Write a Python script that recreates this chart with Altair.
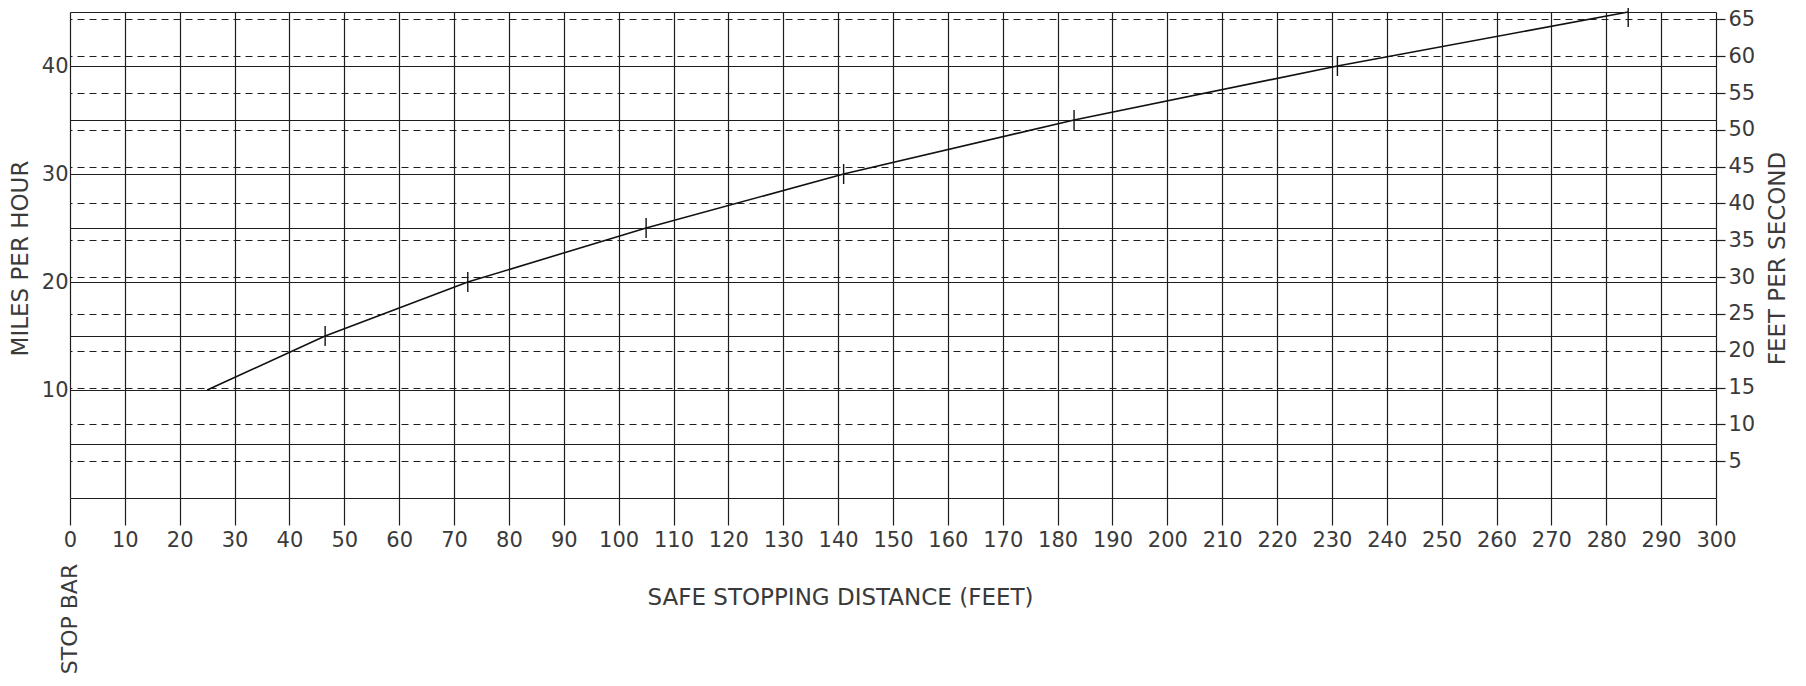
import altair as alt
import pandas as pd

# ---- data ----
speed_mph = [10, 15, 20, 25, 30, 35, 40, 45]
stop_dist_ft = [25, 46.5, 72.5, 105, 141, 183, 231, 284]

x_ticks = list(range(0, 301, 10))
mph_grid = list(range(0, 46, 5))
fps_ticks = list(range(5, 66, 5))
stop_bar_label = ["STOP BAR"]

df = pd.DataFrame({"dist": stop_dist_ft, "mph": speed_mph})

FONT = "DejaVu Sans"
TXT = "#3a3a3a"
LINE = "#1e1e1e"

x_enc = alt.X(
    "dist:Q",
    scale=alt.Scale(domain=[0, 300], nice=False, zero=True),
    axis=alt.Axis(
        values=x_ticks, grid=True, gridColor=LINE, gridWidth=1.2, gridOpacity=1,
        domain=False, tickSize=27, tickColor=LINE, tickWidth=1.2,
        labelFontSize=21, labelPadding=4, labelFlush=False, labelOverlap=False,
        title="SAFE STOPPING DISTANCE (FEET)", titleFontSize=23,
        titleX=770, titleY=99, titleAlign="center", titleBaseline="middle",
    ),
)

y_mph = alt.Y(
    "mph:Q",
    scale=alt.Scale(domain=[0, 45], nice=False, zero=True),
    axis=alt.Axis(
        orient="left", values=mph_grid, grid=True, gridColor=LINE, gridWidth=1.2,
        gridOpacity=1, domain=False, tickSize=0, labelPadding=2, labelFontSize=21,
        labelExpr="(datum.value % 10 == 0 && datum.value > 0 && datum.value < 45) ? datum.label : ''",
        labelOverlap=False, labelFlush=False,
        title="MILES PER HOUR", titleFontSize=23, titleAngle=270,
        titleX=-50, titleY=246, titleAlign="center", titleBaseline="middle",
    ),
)

curve = alt.Chart(df).mark_line(color="#111", strokeWidth=1.6).encode(x=x_enc, y=y_mph)
marks = (
    alt.Chart(df)
    .transform_filter("datum.mph > 10")
    .mark_tick(orient="vertical", thickness=1.4, color="#111", opacity=1)
    .encode(
        x=x_enc,
        y=y_mph,
        size=alt.condition("datum.mph >= 45", alt.value(30), alt.value(20)),
    )
)
stop_bar = alt.Chart(pd.DataFrame({"t": stop_bar_label})).mark_text(
    angle=270, font=FONT, fontSize=22, color=TXT, align="center", baseline="middle", dx=0
).encode(x=alt.datum(0), y=alt.value(607), text="t:N")

mph_layer = alt.layer(curve, marks, stop_bar)

fps_layer = alt.Chart(df).transform_calculate(fps="datum.mph * 22 / 15").mark_line(opacity=0).encode(
    x=x_enc,
    y=alt.Y(
        "fps:Q",
        scale=alt.Scale(domain=[0, 66], nice=False, zero=True),
        axis=alt.Axis(
            orient="right", values=fps_ticks, grid=True, gridColor=LINE, gridWidth=1.2,
            gridOpacity=1, gridDash=[7, 5], domain=False, tickSize=9, tickColor=LINE,
            tickWidth=1.2, labelPadding=3, labelFontSize=21, labelOverlap=False,
            labelFlush=False,
            title="FEET PER SECOND", titleFontSize=23, titleAngle=270,
            titleX=61, titleY=246, titleAlign="center", titleBaseline="middle",
        ),
    ),
)

chart = (
    alt.layer(mph_layer, fps_layer)
    .resolve_scale(y="independent")
    .resolve_axis(y="independent")
    .properties(
        width=1646, height=486,
        autosize=alt.AutoSizeParams(type="none"),
        padding={"left": 62, "top": 4, "right": 82, "bottom": 180},
        background="white",
    )
    .configure_view(strokeWidth=0)
    .configure_axis(
        labelFont=FONT, titleFont=FONT, labelColor=TXT, titleColor=TXT,
        titleFontWeight="normal",
    )
)

chart.save("out.html", embed_options={"renderer": "svg", "actions": False})
